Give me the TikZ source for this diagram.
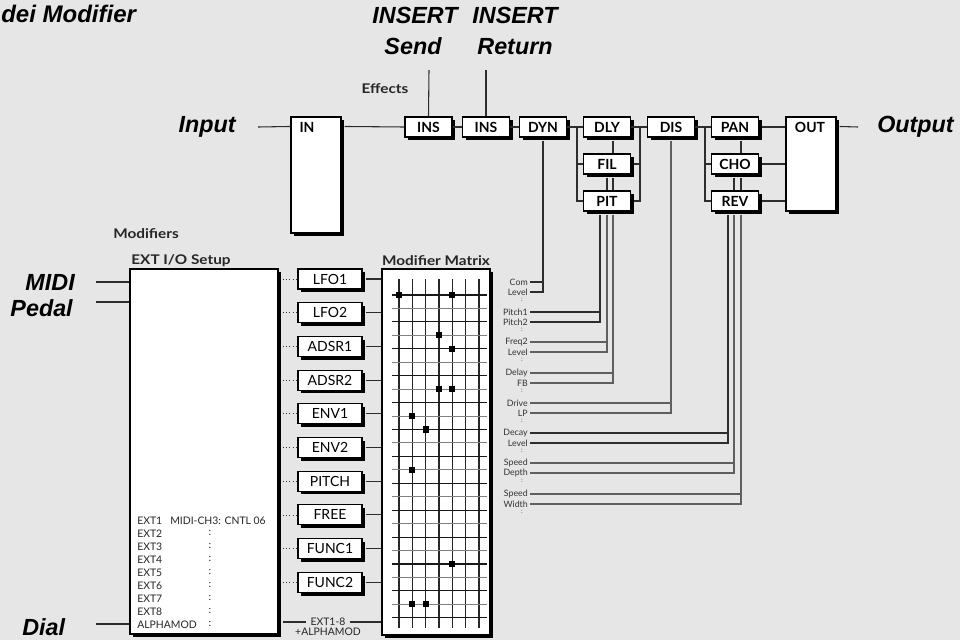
\documentclass[tikz,border=0pt]{standalone}
\usepackage{fontspec}
\setmainfont{Lato}
\newfontfamily\helv{Liberation Sans}
\newfontfamily\widef[FakeStretch=1.15]{Lato}
\usetikzlibrary{calc,shadows}
\definecolor{bg}{RGB}{230,230,230}
\definecolor{ln}{RGB}{45,45,45}
\definecolor{lg}{RGB}{95,95,95}
\begin{document}
\begin{tikzpicture}[x=0.75pt,y=-0.75pt,
  big/.style={font=\helv\bfseries\itshape\fontsize{17.5}{20}\selectfont, inner sep=0},
  sec/.style={font=\widef\bfseries\fontsize{10}{12}\selectfont, inner sep=0, text=black!85},
  boxsh/.style={draw=black, fill=white, line width=0.8pt, inner sep=0,
     drop shadow={shadow xshift=2.4pt, shadow yshift=-2.4pt, fill=black, opacity=1}},
  fx/.style={boxsh, minimum width=35.25pt, minimum height=15pt, font=\bfseries\fontsize{10.5}{12}\selectfont},
  modbox/.style={boxsh, minimum width=48pt, minimum height=15pt, font=\fontsize{10.5}{12}\selectfont},
  wire/.style={draw=ln, line width=0.8pt},
  gwire/.style={draw=lg, line width=0.8pt},
  lbl/.style={font=\fontsize{6.6}{7.5}\selectfont, inner sep=0, anchor=east, text=black!80},
  ext/.style={font=\fontsize{7.8}{9}\selectfont, inner sep=0, anchor=west, text=black!85},
  dotm/.style={font=\fontsize{5}{6}\selectfont, inner sep=0, text=black!70},
  sq/.style={fill=black, minimum size=4.6pt, inner sep=0}
]
\useasboundingbox (0,0) rectangle (960,640);
\fill[bg] (0,0) rectangle (960,640);

% ---------- titles ----------
\node[big, anchor=west, font=\helv\bfseries\itshape\fontsize{18}{20}\selectfont] (title) at (1,14) {dei Modifier};
\node[big] (insA) at (415,15) {INSERT};
\node[big] (insB) at (413,46) {Send};
\node[big] (insC) at (515,15) {INSERT};
\node[big] (insD) at (515,47) {Return};
\node[sec] (effects) at (385,89) {Effects};
\node[big, anchor=east] (inp) at (236,127) {Input};
\node[big, anchor=west] (outp) at (877,127) {Output};

% ---------- effects chain ----------
\node[boxsh, minimum width=37.5pt, minimum height=87pt] (in) at (316,175) {};
\node[font=\bfseries\fontsize{10.5}{12}\selectfont, inner sep=0] (intxt) at (307,127) {IN};
\node[fx] (ins1) at (428.5,127) {INS};
\node[fx] (ins2) at (486,127) {INS};
\node[fx] (dyn) at (543,127) {DYN};
\node[fx] (dly) at (607,127) {DLY};
\node[fx] (fil) at (607,164) {FIL};
\node[fx] (pit) at (607,201) {PIT};
\node[fx] (dis) at (671,127) {DIS};
\node[fx] (pan) at (735,127) {PAN};
\node[fx] (cho) at (735,164) {CHO};
\node[fx] (rev) at (735,201) {REV};
\node[boxsh, minimum width=37.5pt, minimum height=70.5pt] (out) at (811,164) {};
\node[font=\bfseries\fontsize{10.5}{12}\selectfont, inner sep=0] (outtxt) at (810,127) {OUT};

\coordinate (inA) at (258,127);
\coordinate (outA) at (858,127);
\coordinate (sendT) at (429,70);
\coordinate (retT) at (486,70);
\coordinate (bL) at (577,127);
\coordinate (bR) at (640,127);
\coordinate (bP) at (705,127);

\draw[wire] (inA) -- ($(in.north west)+(0,10)$);
\draw[wire] ($(in.north east)+(3,10)$) -- (ins1.west);
\draw[wire] (ins1.east) -- (ins2.west);
\draw[wire] (ins2.east) -- (dyn.west);
\draw[wire] (dyn.east) -- (dly.west);
\draw[wire] (sendT) -- (ins1.north);
\draw[wire] (retT) -- (ins2.north);
\draw[wire] (bL) |- (pit.west);
\draw[wire] (bL |- fil.west) -- (fil.west);
\draw[wire] ($(dly.south)+(6,3)$) -- ($(fil.north)+(6,0)$);
\draw[wire] ($(fil.south)+(0,3)$) -- (pit.north);
\draw[wire] ($(fil.south)+(6,3)$) -- ($(pit.north)+(6,0)$);
\draw[wire] (dly.east) -- (dis.west);
\draw[wire] ($(fil.east)+(3,0)$) -- (fil.east -| bR);
\draw[wire] ($(pit.east)+(3,0)$) -| (bR);
\draw[wire] (dis.east) -- (pan.west);
\draw[wire] (bP) |- (rev.west);
\draw[wire] (bP |- cho.west) -- (cho.west);
\draw[wire] ($(pan.south)+(6,3)$) -- ($(cho.north)+(6,0)$);
\draw[wire] ($(cho.south)+(-1,3)$) -- ($(rev.north)+(-1,0)$);
\draw[wire] ($(cho.south)+(6,3)$) -- ($(rev.north)+(6,0)$);
\draw[wire] ($(pan.east)+(3,0)$) -- (pan.east -| out.west);
\draw[wire] ($(cho.east)+(3,0)$) -- (out.west);
\draw[wire] ($(rev.east)+(3,0)$) -- (rev.east -| out.west);
\draw[wire] ($(out.north east)+(3,10)$) -- (outA);

% ---------- modifiers ----------
\node[sec] (modifiers) at (146,234) {Modifiers};
\node[sec] (extt) at (181,261) {EXT I/O Setup};
\node[sec] (matt) at (436,261) {Modifier Matrix};
\node[boxsh, minimum width=111pt, minimum height=273.75pt] (ext) at (204,451.5) {};
\node[boxsh, minimum width=81pt, minimum height=274.5pt] (mat) at (436,452) {};

\node[big, anchor=east] (midi) at (75,282) {MIDI};
\node[big, anchor=east] (pedal) at (73,308) {Pedal};
\node[big, anchor=west] (dial) at (22,627) {Dial};
\coordinate (midiA) at (96,282);
\coordinate (pedalA) at (96,302);
\coordinate (dialA) at (96,624);
\draw[wire] (midiA) -- (midiA -| ext.west);
\draw[wire] (pedalA) -- (pedalA -| ext.west);
\draw[wire] (dialA) -- (dialA -| ext.west);

% EXT list
\foreach \t [count=\i from 0] in {EXT1,EXT2,EXT3,EXT4,EXT5,EXT6,EXT7,EXT8,ALPHAMOD}{
  \node[ext] (e\i) at (137,521+13*\i) {\t};
}
\node[ext] (midich) at (170,521) {MIDI-CH3: CNTL 06};
\foreach \i in {1,...,8}{
  \node[ext, anchor=center] (c\i) at (210,520+13*\i) {:};
}

% modifier source boxes
\foreach \t [count=\i from 0] in {LFO1,LFO2,ADSR1,ADSR2,ENV1,ENV2,PITCH,FREE,FUNC1,FUNC2}{
  \node[modbox] (m\i) at (330,{279+33.7*\i}) {\t};
  \draw[black!80, line width=0.6pt, dotted] ($(m\i.west -| ext.east)+(4,0)$) -- (m\i.west);
  \draw[wire] ($(m\i.east)+(3,0)$) -- (m\i.east -| mat.west);
}
\node[font=\fontsize{7.8}{9}\selectfont, inner sep=0, text=black!85] (eall) at (328,622) {EXT1-8};
\node[font=\fontsize{7.8}{9}\selectfont, inner sep=0, text=black!85] (alph) at (328,632) {+ALPHAMOD};
\draw[wire] ($(eall.west -| ext.east)+(4,0)$) -- ($(eall.west)+(-4,0)$);
\draw[wire] ($(eall.east)+(4,0)$) -- (eall.east -| mat.west);

% matrix grid
\foreach \c in {0,...,6}{
  \draw[black!85, line width=0.8pt] ({399+13.33*\c},279) -- ({399+13.33*\c},628);
}
\foreach \r in {0,...,24}{
  \pgfmathsetmacro{\yy}{295+13.45*\r}
  \ifodd\r
    \draw[black!50, line width=0.8pt] (392,\yy) -- (487,\yy);
  \else
    \draw[black!90, line width=0.8pt] (392,\yy) -- (487,\yy);
  \fi
}
\foreach \c/\r [count=\k] in {0/0,4/0,3/3,4/4,3/7,4/7,1/9,2/10,1/13,4/20,1/23,2/23}{
  \node[sq] (d\k) at ({399+13.33*\c},{295+13.45*\r}) {};
}

% ---------- parameter labels ----------
\coordinate (vDyn) at (dyn.south);
\coordinate (vP1) at ($(pit.south)+(-7,0)$);
\coordinate (vP2) at (pit.south);
\coordinate (vP3) at ($(pit.south)+(6,0)$);
\coordinate (vDis) at (dis.south);
\coordinate (vR1) at ($(rev.south)+(-7,0)$);
\coordinate (vR2) at ($(rev.south)+(-1,0)$);
\coordinate (vR3) at ($(rev.south)+(6,0)$);

\foreach \a/\b/\ya/\v/\w [count=\k] in {Com/Level/282/vDyn/wire, Pitch1/Pitch2/312/vP1/wire, Freq2/Level/342/vP2/gwire, Delay/FB/373/vP3/gwire, Drive/LP/403/vDis/gwire, Decay/Level/433/vR1/wire, Speed/Depth/463/vR2/gwire, Speed/Width/494/vR3/gwire}{
  \node[lbl] (la\k) at (528,\ya) {\a};
  \node[lbl] (lb\k) at (528,\ya+10) {\b};
  \node[dotm] (ld\k) at (522,\ya+18) {:};
  \draw[\w] ($(la\k.east)+(2,0)$) -- (la\k.east -| \v);
  \draw[\w] ($(\v)+(0,3)$) |- ($(lb\k.east)+(2,0)$);
}
\end{tikzpicture}
\end{document}
